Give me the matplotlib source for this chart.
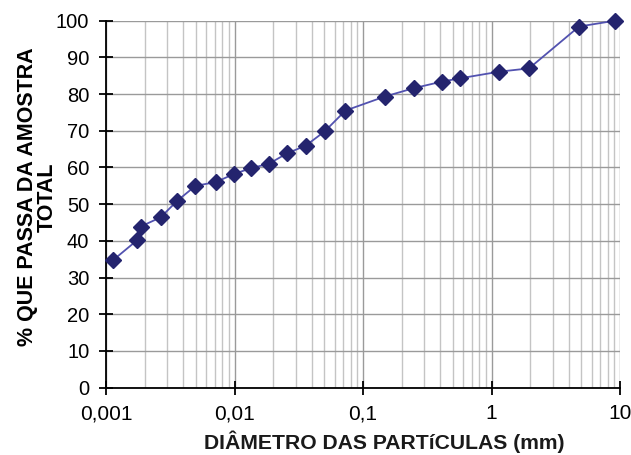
import matplotlib
import numpy as np
from matplotlib import pyplot as plt
from matplotlib.ticker import FixedLocator, LogLocator, NullFormatter

matplotlib.use("Agg")

# particle diameter (mm) and cumulative % passing
diametro_mm = [
    0.00114, 0.00175, 0.00186, 0.00266, 0.00358, 0.00497, 0.00715, 0.00987,
    0.0134, 0.0185, 0.0258, 0.0357, 0.0502, 0.073, 0.147, 0.248, 0.412,
    0.571, 1.15, 1.96, 4.8, 9.2,
]
passa_pct = [
    34.8, 40.2, 43.9, 46.4, 50.9, 55.0, 56.0, 58.2, 59.8, 61.0, 63.9, 65.9,
    69.8, 75.5, 79.3, 81.6, 83.4, 84.3, 86.1, 87.0, 98.4, 100.0,
]
x_ticks = [0.001, 0.01, 0.1, 1, 10]
x_tick_labels = ["0,001", "0,01", "0,1", "1", "10"]
y_ticks = list(range(0, 101, 10))

plt.rcParams["font.family"] = ["Liberation Sans", "DejaVu Sans"]

fig = plt.figure(figsize=(6.31, 4.55), dpi=100)
ax = fig.add_axes([0.168, 0.148, 0.8146, 0.8066])

ax.set_xscale("log")
ax.set_xlim(0.001, 10)
ax.set_ylim(0, 100)

ax.plot(diametro_mm, passa_pct, color="#5252b0", linewidth=1.3, zorder=3)
ax.plot(diametro_mm, passa_pct, linestyle="none", marker="D", markersize=8.5,
        color="#24246e", zorder=4, clip_on=False)

ax.xaxis.set_major_locator(FixedLocator(x_ticks))
ax.set_xticklabels(x_tick_labels)
ax.xaxis.set_minor_locator(LogLocator(base=10, subs=np.arange(2, 10)))
ax.xaxis.set_minor_formatter(NullFormatter())
ax.set_yticks(y_ticks)

ax.grid(True, which="major", axis="both", color="#9a9a9a", linewidth=1.0, zorder=0)
ax.grid(True, which="minor", axis="x", color="#c4c4c4", linewidth=1.0, zorder=0)
ax.set_axisbelow(True)

for side in ["top", "right"]:
    ax.spines[side].set_visible(False)
for side in ["left", "bottom"]:
    ax.spines[side].set_color("black")
    ax.spines[side].set_linewidth(1.3)

ax.tick_params(axis="both", which="major", direction="inout", length=10, width=1.3,
               colors="black")
ax.tick_params(axis="y", labelsize=14.5, pad=7)
ax.tick_params(axis="x", labelsize=15, pad=7)
ax.tick_params(axis="x", which="minor", length=0)

fig.text(384 / 631, 1 - 449 / 455, "DIÂMETRO DAS PARTíCULAS (mm)", fontsize=15.2,
         fontweight="semibold", color="#1a1a1a", ha="center", va="baseline")
fig.text(37.5 / 631, 1 - 197 / 455, "% QUE PASSA DA AMOSTRA\nTOTAL", fontsize=15.5,
         fontweight="bold", rotation=90, ha="center", va="center",
         multialignment="center", linespacing=0.9)

fig.savefig("out.png", dpi=100)
